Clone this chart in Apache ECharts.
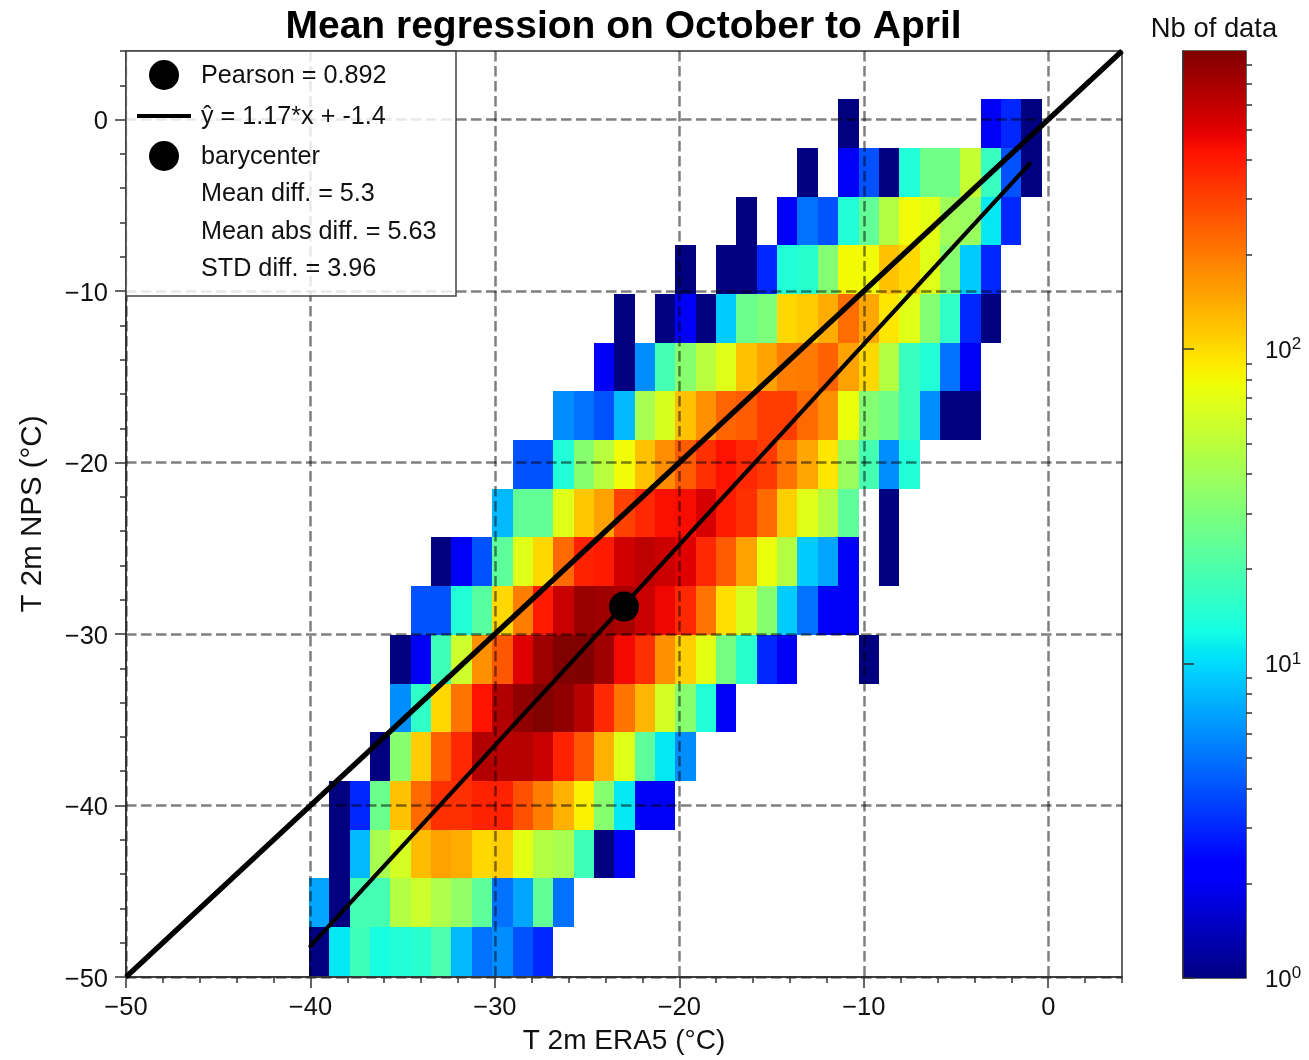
<!DOCTYPE html>
<html>
<head>
<meta charset="utf-8">
<script src="https://cdn.jsdelivr.net/npm/echarts@6/dist/echarts.min.js"></script>
<style>html,body{margin:0;padding:0;background:#fff}#c{width:1309px;height:1060px}</style>
</head>
<body>
<div id="c"></div>
<script>
// ---- data ----
const titleText = 'Mean regression on October to April';
const xName = 'T 2m ERA5 (°C)';
const yName = 'T 2m NPS (°C)';
const cbarName = 'Nb of data';
const majorTicks = [-50, -40, -30, -20, -10, 0];
const endMinorTick = [4];
const legendLines = ['Pearson = 0.892', 'ŷ = 1.17*x + -1.4', 'barycenter', 'Mean diff. = 5.3', 'Mean abs diff. = 5.63', 'STD diff. = 3.96'];

const xBinStart = -40.08, xBinWidth = 1.1036;
const yBinStart = -49.93, yBinHeight = 2.84;
const maxCount = 887;

// first x-bin of each row (bottom row first)
const rowStart = [0,0,1,1,3,4,4,5,6,9,10,12,14,15,18,21,24,26];
// counts per 2-D bin, null = empty bin
const rowCounts = [
 [1,11,18,13,14,15,20,8,5,6,4,3],
 [7,1,19,19,48,58,45,36,23,5,7,24,5],
 [1,8,43,62,125,150,140,102,110,70,48,43,18,1,2],
 [1,3,26,120,225,340,340,380,380,270,195,135,85,33,11,2,2],
 [1,33,110,240,360,660,640,640,580,380,260,135,68,23,11,6],
 [6,16,102,210,420,660,800,880,800,640,360,210,130,62,33,14,2],
 [1,2,18,58,170,260,500,740,880,887,740,450,340,170,108,70,28,15,3,2,null,null,null,1],
 [4,4,14,22,102,195,400,580,770,740,700,580,460,360,210,98,64,33,9,5,2,2],
 [1,2,4,23,68,102,225,380,400,550,620,570,500,360,250,150,75,48,9,7,2,null,1],
 [8,24,24,68,115,150,300,360,430,440,530,400,340,225,108,68,48,23,null,1],
 [4,4,14,33,50,78,120,175,250,340,420,360,320,210,145,92,38,19,6,14],
 [6,5,4,8,43,64,120,170,235,250,310,310,225,170,75,32,27,17,6,1,1],
 [2,1,6,19,33,50,68,120,150,195,200,240,150,102,48,17,14,5,2],
 [1,null,1,2,1,9,26,30,102,112,140,220,145,92,68,32,16,3,1],
 [1,null,1,1,3,14,15,32,80,78,120,102,68,33,9,3],
 [1,null,2,5,4,14,24,48,78,70,40,38,11,3],
 [1,null,2,4,1,14,27,27,54,17,4,1],
 [1,null,null,null,null,null,null,2,3,1]
];

const identityX = [-50, 4];
const identityY = [-50, 4];
const regressionX = [-40, -1];
const regressionY = [-48.2, -2.57];
const barycenter = [-23, -28.4];

const cbarMajor = [1, 10, 100];
const cbarMinor = [2,3,4,5,6,7,8,9,20,30,40,50,60,70,80,90,200,300,400,500,600,700,800];

// ---- jet colormap ----
const jetR = [[0,0],[0.35,0],[0.66,1],[0.89,1],[1,0.5]];
const jetG = [[0,0],[0.125,0],[0.375,1],[0.64,1],[0.91,0],[1,0]];
const jetB = [[0,0.5],[0.11,1],[0.34,1],[0.65,0],[1,0]];
function seg(tab, t) {
  for (let i = 1; i < tab.length; i++) {
    if (t <= tab[i][0]) {
      const a = tab[i-1], b = tab[i];
      return a[1] + (b[1]-a[1]) * (t-a[0]) / (b[0]-a[0]);
    }
  }
  return tab[tab.length-1][1];
}
function jet(t) {
  return 'rgb(' + Math.round(255*seg(jetR,t)) + ',' + Math.round(255*seg(jetG,t)) + ',' + Math.round(255*seg(jetB,t)) + ')';
}
const logMax = Math.log10(maxCount);

const cells = [];
rowCounts.forEach((row, r) => {
  row.forEach((count, k) => {
    if (count !== null) cells.push([rowStart[r] + k, r, count]);
  });
});

const cbarStops = [];
for (let i = 0; i <= 128; i++) cbarStops.push({ offset: i/128, color: jet(i/128) });

const FONT = '"Liberation Sans", Arial, sans-serif';
const AX = '#333';
const TXT = '#111';
const fmtMinus = v => String(v).replace('-', '\u2212');

const chart = echarts.init(document.getElementById('c'), null, { renderer: 'canvas' });

const gridLine = { show: true, lineStyle: { color: 'rgba(0,0,0,0.5)', width: 2.5, type: [10.5, 4.5] } };
function mainAxis(name, extra) {
  return Object.assign({
    type: 'value', min: -50, max: 4, interval: 10, z: 3, name: name,
    nameLocation: 'middle',
    axisLine: { show: true, onZero: false, lineStyle: { color: AX, width: 1.5 } },
    axisTick: { show: true, length: 11, inside: false, customValues: majorTicks, lineStyle: { color: AX, width: 1.5 } },
    minorTick: { show: true, splitNumber: 5, length: 6, lineStyle: { color: AX, width: 1.5 } },
    axisLabel: { customValues: majorTicks, fontFamily: FONT, fontSize: 25.5, color: TXT, margin: 18, formatter: fmtMinus },
    splitLine: gridLine,
    minorSplitLine: { show: false }
  }, extra);
}
function endTickAxis(extra) {
  return Object.assign({
    type: 'value', gridIndex: 0, min: -50, max: 4, interval: 10, z: 3,
    axisLine: { show: false, onZero: false },
    axisTick: { show: true, length: 6, customValues: endMinorTick, lineStyle: { color: AX, width: 1.5 } },
    axisLabel: { show: false },
    splitLine: { show: false }
  }, extra);
}

const legendRows = [75, 116, 156, 193, 231, 268];
const graphicEls = [
  { type: 'rect', z: 20, shape: { x: 126, y: 51, width: 330, height: 245 },
    style: { fill: 'rgba(255,255,255,0.82)', stroke: '#444', lineWidth: 1.5 } },
  { type: 'circle', z: 21, shape: { cx: 164, cy: legendRows[0], r: 15 }, style: { fill: '#000' } },
  { type: 'line', z: 21, shape: { x1: 137, y1: legendRows[1], x2: 191, y2: legendRows[1] }, style: { stroke: '#000', lineWidth: 4 } },
  { type: 'circle', z: 21, shape: { cx: 164, cy: legendRows[2], r: 15 }, style: { fill: '#000' } }
];
legendLines.forEach((t, i) => graphicEls.push({
  type: 'text', z: 21, x: 201, y: legendRows[i] + 1.5,
  style: { text: t, fontFamily: FONT, fontSize: 25.2, fill: TXT, verticalAlign: 'middle' }
}));

chart.setOption({
  animation: false,
  backgroundColor: '#fff',
  title: [
    { text: titleText, left: 618.5, top: 3, textAlign: 'center',
      textStyle: { fontFamily: FONT, fontSize: 39, fontWeight: 'bold', color: '#000' } },
    { text: cbarName, left: 1209, top: 11, textAlign: 'center',
      textStyle: { fontFamily: FONT, fontSize: 27.4, fontWeight: 'normal', color: TXT } }
  ],
  grid: [
    { left: 126, top: 51, width: 996, height: 928, show: true, borderColor: AX, borderWidth: 1.5, backgroundColor: 'transparent' },
    { left: 1183, top: 51, width: 63, height: 927, show: true, borderColor: AX, borderWidth: 1.5, backgroundColor: 'transparent' }
  ],
  xAxis: [
    mainAxis(xName, { gridIndex: 0, nameGap: 50, nameTextStyle: { fontFamily: FONT, fontSize: 28, color: TXT } }),
    { type: 'value', gridIndex: 1, min: 0, max: 1, show: false },
    endTickAxis({ position: 'bottom' })
  ],
  yAxis: [
    mainAxis(yName, { gridIndex: 0, nameGap: 78,
      axisLabel: { customValues: majorTicks, margin: 18, padding: [5, 0, 0, 0],
        formatter: v => '{t|' + fmtMinus(v) + '}',
        rich: { t: { fontFamily: FONT, fontSize: 25.5, color: TXT, lineHeight: 30 } } },
      nameTextStyle: { fontFamily: FONT, fontSize: 29.5, color: TXT } }),
    { type: 'value', gridIndex: 1, position: 'right', min: 0, max: logMax, z: 3,
      axisLine: { show: true, lineStyle: { color: AX, width: 1.5 } },
      axisTick: { show: true, length: 11, customValues: cbarMajor.map(v => Math.log10(v)), lineStyle: { color: AX, width: 1.5 } },
      axisLabel: { customValues: cbarMajor.map(v => Math.log10(v)), margin: 19, padding: [4, 0, 0, 0],
        formatter: v => '{b|10}{s|' + Math.round(v) + '}',
        rich: {
          b: { fontFamily: FONT, fontSize: 24, color: TXT, lineHeight: 30 },
          s: { fontFamily: FONT, fontSize: 17, color: TXT, verticalAlign: 'top', lineHeight: 30 }
        } },
      splitLine: { show: false } },
    { type: 'value', gridIndex: 1, position: 'right', min: 0, max: logMax, z: 3,
      axisLine: { show: false },
      axisTick: { show: true, length: 6, customValues: cbarMinor.map(v => Math.log10(v)), lineStyle: { color: AX, width: 1.5 } },
      axisLabel: { show: false },
      splitLine: { show: false } },
    endTickAxis({ position: 'left' })
  ],
  series: [
    { type: 'custom', name: 'counts', xAxisIndex: 0, yAxisIndex: 0, z: 2, clip: true,
      encode: { x: 0, y: 1 },
      data: cells,
      renderItem: function (params, api) {
        const i = api.value(0), r = api.value(1), n = api.value(2);
        const a = api.coord([xBinStart + i * xBinWidth, yBinStart + (r + 1) * yBinHeight]);
        const b = api.coord([xBinStart + (i + 1) * xBinWidth, yBinStart + r * yBinHeight]);
        const x0 = Math.round(a[0]), y0 = Math.round(a[1]), x1 = Math.round(b[0]), y1 = Math.round(b[1]);
        return { type: 'rect', shape: { x: x0, y: y0, width: x1 - x0, height: y1 - y0 },
          style: { fill: jet(Math.log10(n) / logMax) } };
      }
    },
    { type: 'line', name: 'identity', xAxisIndex: 0, yAxisIndex: 0, z: 5, showSymbol: false, silent: true,
      data: identityX.map((x, i) => [x, identityY[i]]),
      lineStyle: { color: '#000', width: 5.2 } },
    { type: 'line', name: 'regression', xAxisIndex: 0, yAxisIndex: 0, z: 5, showSymbol: false, silent: true,
      data: regressionX.map((x, i) => [x, regressionY[i]]),
      lineStyle: { color: '#000', width: 4.2, cap: 'round' } },
    { type: 'scatter', name: 'barycenter', xAxisIndex: 0, yAxisIndex: 0, z: 6, symbolSize: 30, silent: true,
      data: [barycenter], itemStyle: { color: '#000', opacity: 1 } },
    { type: 'custom', name: 'colorbar', xAxisIndex: 1, yAxisIndex: 1, z: 2, silent: true,
      data: [[0, 0, 1, logMax]],
      renderItem: function (params, api) {
        const a = api.coord([api.value(0), api.value(3)]);
        const b = api.coord([api.value(2), api.value(1)]);
        return { type: 'rect', shape: { x: a[0], y: a[1], width: b[0] - a[0], height: b[1] - a[1] },
          style: { fill: new echarts.graphic.LinearGradient(0, 1, 0, 0, cbarStops) } };
      }
    }
  ],
  graphic: { elements: graphicEls }
});
</script>
</body>
</html>
